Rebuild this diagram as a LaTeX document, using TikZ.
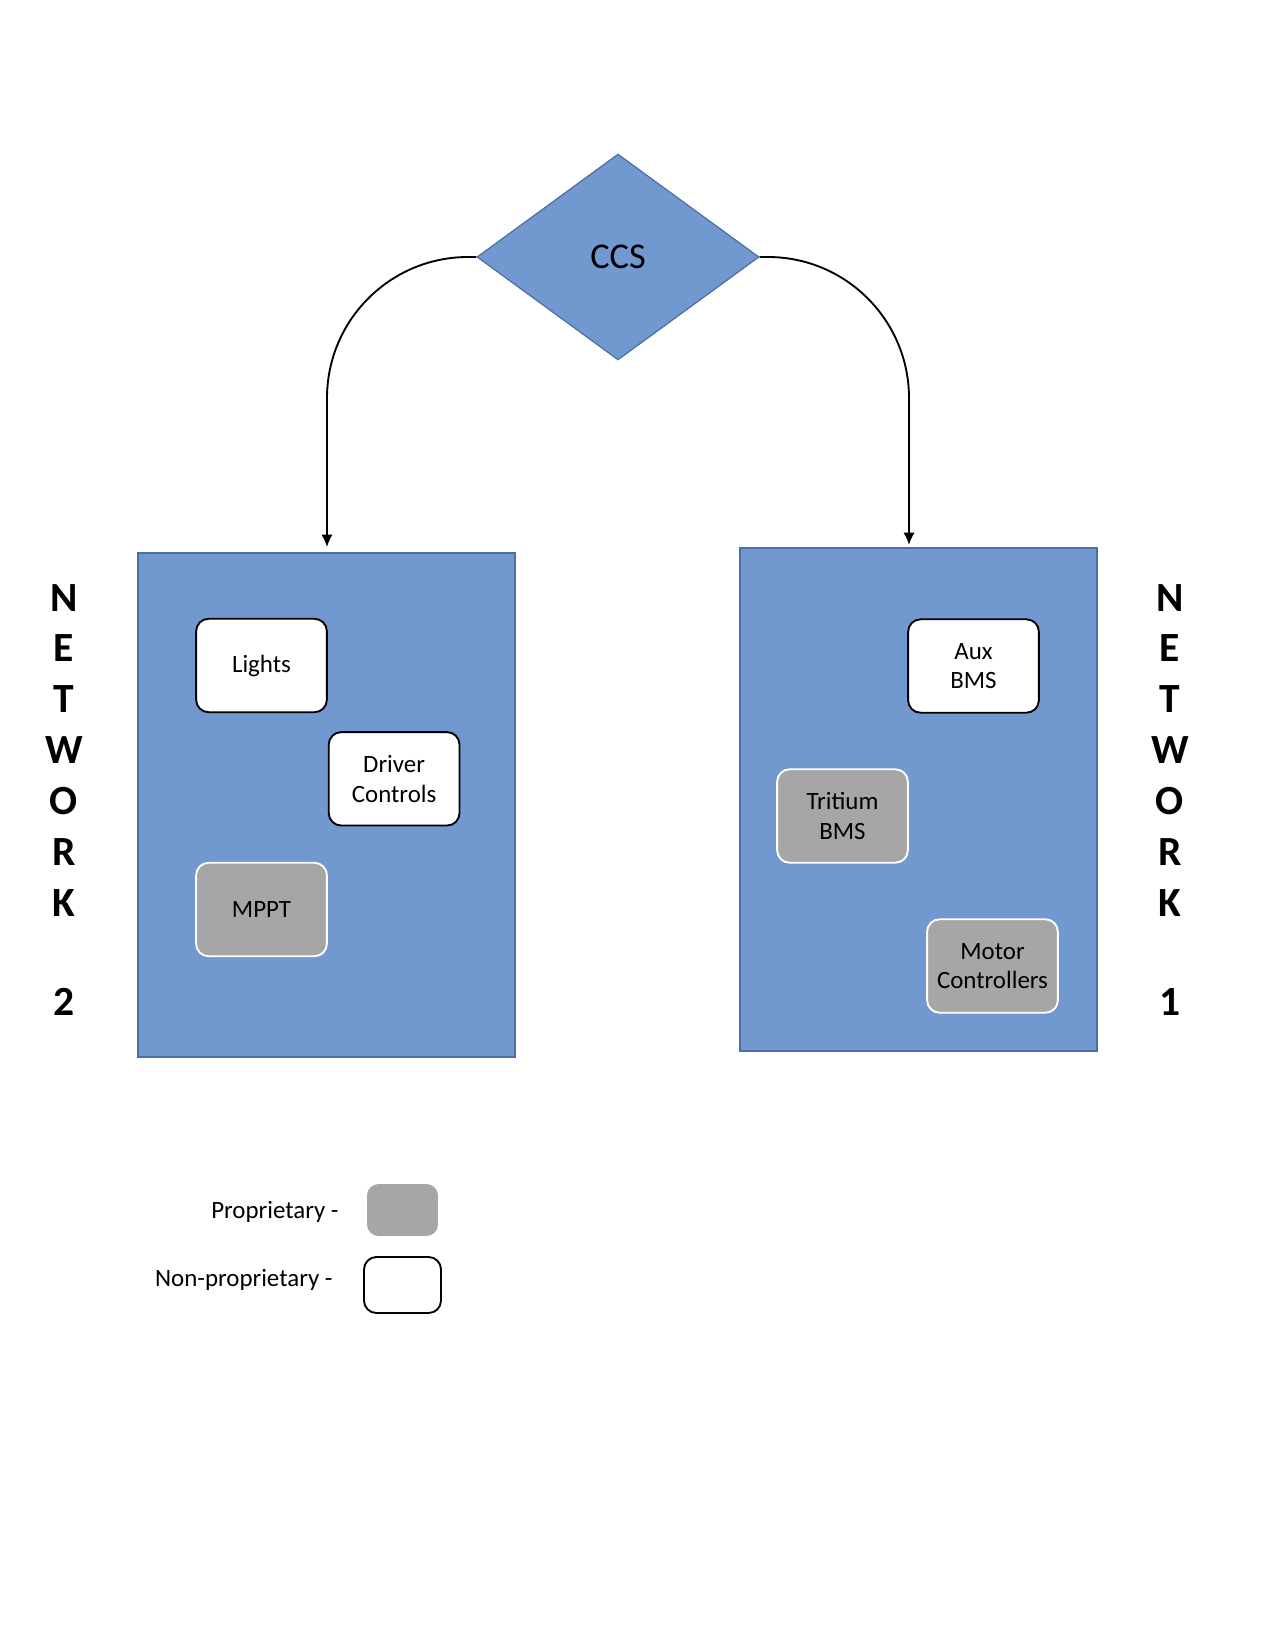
\documentclass[tikz,border=0pt]{standalone}
\usepackage{fontspec}
\setmainfont{Carlito}
\usepackage{tikz}
\usetikzlibrary{positioning, arrows.meta, shapes.geometric}
\definecolor{netblue}{HTML}{7199CF}
\definecolor{netedge}{HTML}{4C70A4}
\definecolor{propgray}{HTML}{A6A6A6}
\tikzset{
  x=0.4818pt, y=-0.4818pt,
  network/.style={draw=netedge, fill=netblue, line width=0.8pt, minimum width=#1},
  network/.default=180pt,
  unit/.style={rounded corners=6pt, minimum width=63pt, minimum height=45pt,
    align=center, font=\fontsize{12}{14.2}\selectfont, inner sep=2pt},
  openunit/.style={unit, draw=black, fill=white, line width=0.9pt},
  propunit/.style={unit, draw=white, fill=propgray, line width=0.9pt},
  netlabel/.style={align=center, font=\fontsize{20}{24.5}\selectfont\bfseries},
  keytext/.style={anchor=east, inner sep=0pt, font=\fontsize{12}{14}\selectfont},
  conn/.style={-{Latex[length=6pt,width=5.5pt]}, line width=0.9pt, rounded corners=68pt}
}

\begin{document}
\begin{tikzpicture}
      \useasboundingbox (0,0) rectangle (1275,1650);

      \node[diamond, draw=netedge, fill=netblue, line width=0.6pt, aspect=1.37,
        minimum width=135.9pt, minimum height=99.2pt, inner sep=0pt,
        font=\fontsize{17.5}{20}\selectfont] (ccs) at (618,257) {CCS};

      % the two networks
      \node[network=181.6pt, minimum height=242.8pt] (net2) at (326.5,805) {};
      \node[network=172pt, minimum height=242.3pt] (net1) at (918.5,799.5) {};

      \node[openunit] (lights) at (261.5,665.5) {Lights};
      \node[openunit, below right=8.7pt and 0pt of lights] (driver) {Driver\\Controls};
      \node[propunit] (mppt) at (261.5,909.5) {MPPT};

      \node[openunit] (auxbms) at (973.5,666) {Aux\\BMS};
      \node[propunit] (tritium) at (842.5,816) {Tritium\\BMS};
      \node[propunit] (motors) at (992.5,966) {Motor\\Controllers};

      \node[netlabel] (lbl2) at (64,800) {N\\E\\T\\W\\O\\R\\K\\[23.5pt]2};
      \node[netlabel] (lbl1) at (1170,800) {N\\E\\T\\W\\O\\R\\K\\[23.5pt]1};

      \coordinate (in2) at (327,547);
      \coordinate (in1) at (909,545);
      \draw[conn] (ccs.west) -| (in2);
      \draw[conn] (ccs.east) -| (in1);

      % legend
      \node[propunit, minimum width=35.2pt, minimum height=26pt] (keyprop) at (402.5,1210) {};
      \node[openunit, minimum width=37.1pt, minimum height=27pt] (keyopen) at (402.5,1285) {};
      \node[keytext] (keyproptxt) at (339,1212) {Proprietary -};
      \node[keytext] (keyopentxt) at (333,1280) {Non-proprietary -};
    \end{tikzpicture}
\end{document}
